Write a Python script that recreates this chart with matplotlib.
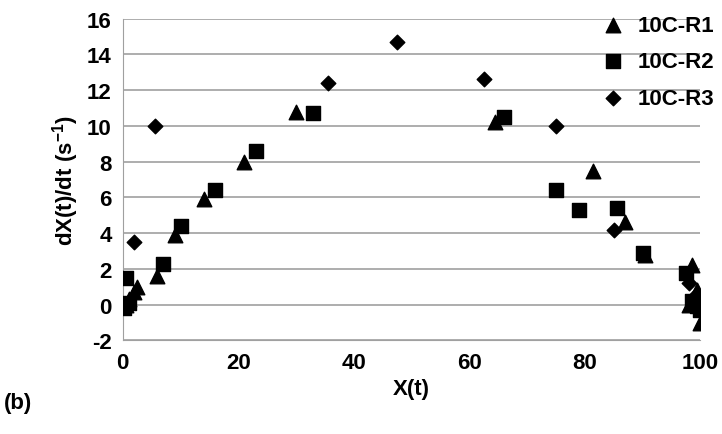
import matplotlib.pyplot as plt

r1_x = [0.5, 1, 2, 2.5, 6, 9, 14, 21, 30, 64.5, 81.5, 87, 90.5, 98.5, 98, 99, 99.5, 99.7, 100]
r1_y = [0, 0.3, 0.7, 1.0, 1.6, 3.9, 5.9, 8.0, 10.8, 10.2, 7.5, 4.6, 2.8, 2.2, 0, 0.3, 0.8, 0.2, -1.0]
r2_x = [0.3, 0.5, 1, 7, 10, 16, 23, 33, 66, 75, 79, 85.5, 90, 97.5, 98.5, 99.5, 100]
r2_y = [-0.2, 1.5, 0.1, 2.3, 4.4, 6.4, 8.6, 10.7, 10.5, 6.4, 5.3, 5.4, 2.9, 1.8, 0.2, -0.1, -0.3]
r3_x = [0.2, 2, 5.5, 35.5, 47.5, 62.5, 75, 85, 98, 99, 99.5]
r3_y = [0, 3.5, 10, 12.4, 14.7, 12.6, 10, 4.2, 1.2, 0.5, 0]

plt.rcParams['font.family'] = ['Liberation Sans', 'DejaVu Sans']
plt.rcParams['font.weight'] = 'bold'
plt.rcParams['font.size'] = 16
plt.rcParams['axes.unicode_minus'] = False
plt.rcParams['mathtext.fontset'] = 'custom'
plt.rcParams['mathtext.bf'] = 'Liberation Sans:bold'

fig, ax = plt.subplots(figsize=(7.22, 4.35), dpi=100)
ax.scatter(r1_x, r1_y, marker='^', s=110, c='black', label='10C-R1', zorder=3)
ax.scatter(r2_x, r2_y, marker='s', s=100, c='black', label='10C-R2', zorder=3)
ax.scatter(r3_x, r3_y, marker='D', s=55, c='black', label='10C-R3', zorder=3)
ax.set_xlim(0, 100)
ax.set_ylim(-2, 16)
ax.set_yticks(range(-2, 17, 2))
ax.set_xticks(range(0, 101, 20))
for lab in ax.get_xticklabels() + ax.get_yticklabels():
    lab.set_fontweight('bold')
    lab.set_fontsize(16)
ax.yaxis.grid(True, color='#a0a0a0', linewidth=1.2)
for s in ['top', 'right']:
    ax.spines[s].set_visible(False)
ax.spines['bottom'].set_color('#a0a0a0')
ax.spines['left'].set_color('#a0a0a0')
ax.tick_params(length=0, pad=8)
ax.set_xlabel('X(t)', fontweight='bold', fontsize=16)
ax.set_ylabel('dX(t)/dt (s$^{\\mathbf{-1}}$)', fontweight='bold', fontsize=16)
ax.legend(loc='upper right', bbox_to_anchor=(1.04, 1.04), frameon=False,
          prop={'weight': 'bold', 'size': 16},
          handletextpad=0.1, labelspacing=0.7, borderaxespad=0)
fig.text(0.005, 0.06, '(b)', fontweight='bold', fontsize=16)
plt.subplots_adjust(left=0.17, right=0.97, top=0.955, bottom=0.215)
plt.savefig('out.png')
